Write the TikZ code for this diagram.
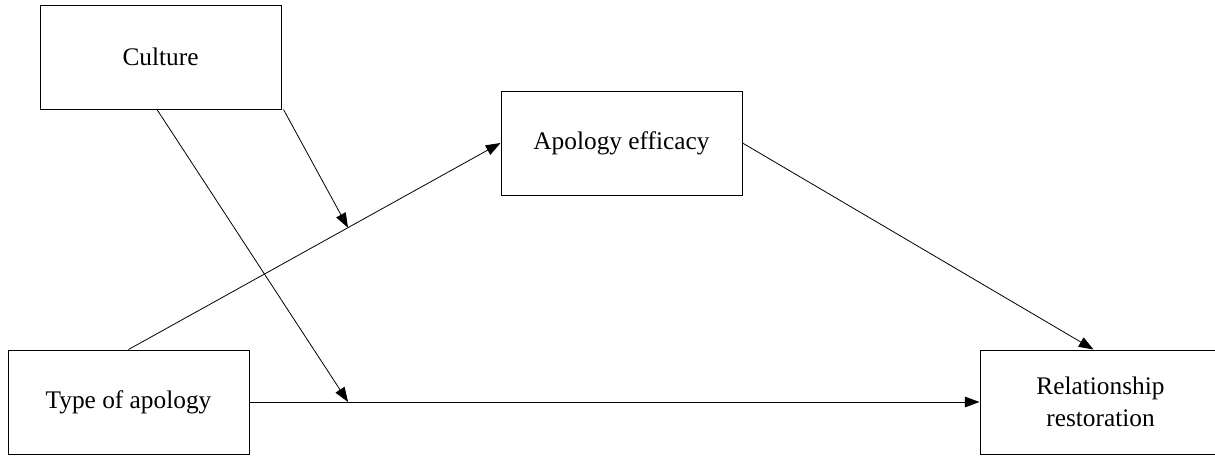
\documentclass[tikz,border=0pt]{standalone}
\usepackage{fontspec}
\setmainfont{Liberation Serif}
\usetikzlibrary{arrows.meta,calc}
\begin{document}
\begin{tikzpicture}[x=0.75pt,y=-0.75pt,
  box/.style={draw,line width=0.75pt,minimum width=241*0.75pt,minimum height=104*0.75pt,
    inner sep=0pt,align=center,font=\fontsize{19}{24}\selectfont},
  link/.style={line width=0.6pt},
  arr/.style={link,-{Triangle[length=11pt,width=8pt]}}]
\useasboundingbox (0,0) rectangle (1215,455);
\clip (0,0) rectangle (1215,455);
\node[box] (cult) at (160.5,57) {Culture};
\node[box] (type) at (128.5,402) {Type of apology};
\node[box] (eff) at (621.5,143) {Apology efficacy};
\node[box] (rel) at (1100.5,402) {Relationship\\restoration};
\draw[arr] (type.north) -- (eff.west) coordinate[pos=0.59] (mid1);
\draw[arr] (type.east) -- (rel.west) coordinate[pos=0.135] (mid2);
\draw[arr] ($(cult.south east)+(2,0)$) -- (mid1);
\draw[arr] ($(cult.south)+(-3.5,0)$) -- (mid2);
\draw[arr] (eff.east) -- ($(rel.north)+(-7,0)$);
\end{tikzpicture}
\end{document}
